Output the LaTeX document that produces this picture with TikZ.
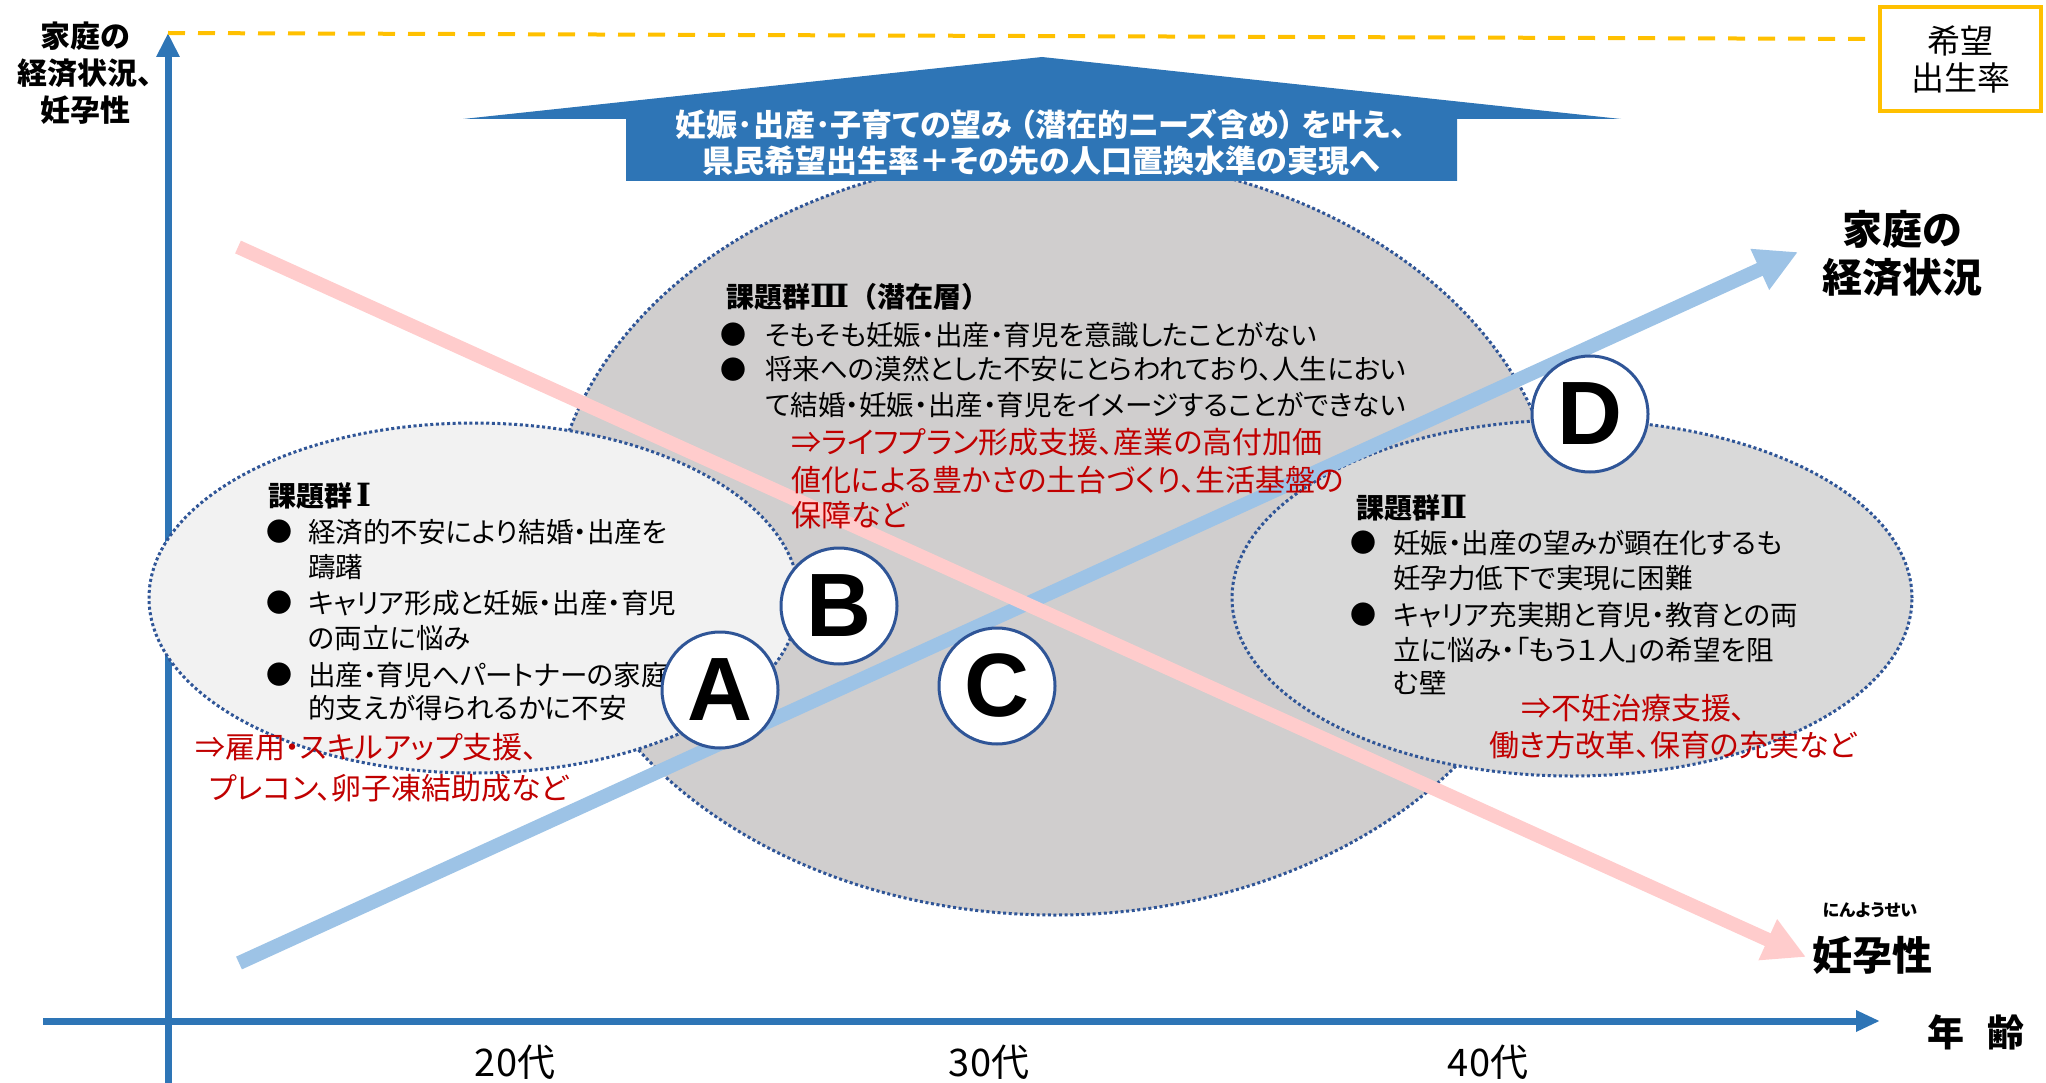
\documentclass[tikz,border=0pt]{standalone}
\usepackage{fontspec}
\setmainfont{Noto Sans CJK JP}[RawFeature=+palt]
\newfontfamily\headfont{Noto Sans CJK JP}
\newfontfamily\romanfont{DejaVu Serif}
\newfontfamily\letterfont{Liberation Sans}
\usetikzlibrary{arrows.meta}
\definecolor{axisblue}{HTML}{2E75B6}
\definecolor{econblue}{HTML}{9DC3E6}
\definecolor{fertpink}{HTML}{FFCCCC}
\definecolor{hopeyel}{HTML}{FFC000}
\definecolor{rimblue}{HTML}{2F5597}
\definecolor{grpthree}{HTML}{D0CECE}
\definecolor{grpone}{HTML}{F2F2F2}
\definecolor{grptwo}{HTML}{D9D9D9}
\definecolor{redtxt}{HTML}{C00000}
\newcommand\romnum[1]{{\romanfont\bfseries\fontsize{32}{32}\selectfont #1}}
\tikzset{
  txt/.style={anchor=base west, inner sep=0pt, font=\fontsize{27.5}{27.5}\selectfont},
  redline/.style={anchor=base west, inner sep=0pt, text=redtxt, font=\fontsize{30}{30}\selectfont},
  head/.style={anchor=base west, inner sep=0pt, font=\headfont\bfseries\fontsize{28}{28}\selectfont},
  bul/.style={anchor=center, inner sep=0pt, font=\fontsize{26}{26}\selectfont},
  ellborder/.style={draw=rimblue, line width=3pt, dash pattern=on 3pt off 2.6pt},
  circ/.style={circle, draw=rimblue, line width=3pt, fill=white, minimum size=116pt, inner sep=0pt,
    font=\letterfont\bfseries\fontsize{90}{90}\selectfont},
  axisline/.style={draw=axisblue, line width=7pt},
  trendline/.style={line width=14pt, -{Triangle[width=42pt,length=42pt]}},
  label/.style={inner sep=0pt, align=center}
}
\begin{document}
\begin{tikzpicture}[x=1pt,y=-1pt]
\useasboundingbox (0,0) rectangle (2046,1083);

% axes
\coordinate (ybot) at (168,1083);
\coordinate (ytop) at (168,33);
\coordinate (xleft) at (43,1021);
\coordinate (xright) at (1880,1021);
\draw[axisline, -{Triangle[width=22pt,length=24pt]}] (ybot) -- (ytop);
\draw[axisline, -{Triangle[width=20pt,length=24pt]}] (xleft) -- (xright);

% hope line and box
\node[draw=hopeyel, line width=4pt, minimum width=161pt, minimum height=104pt, inner sep=0pt,
  align=center, font=\headfont\fontsize{33}{37}\selectfont] (hope) at (1960.5,59) {希望\\出生率};
\draw[hopeyel, line width=4pt, dash pattern=on 17pt off 13pt] (ytop) -- ([yshift=20pt]hope.west);

% ellipses
\fill[grpthree] (1055,535) ellipse [x radius=505pt, y radius=380pt];
\draw[ellborder] (1055,535) ellipse [x radius=505pt, y radius=380pt];
\fill[grpone] (474,598) ellipse [x radius=325pt, y radius=175pt];
\draw[ellborder] (474,598) ellipse [x radius=325pt, y radius=175pt];
\fill[grptwo] (1572,598) ellipse [x radius=340pt, y radius=178pt];
\draw[ellborder] (1572,598) ellipse [x radius=340pt, y radius=178pt];

% big upward arrow
\fill[axisblue] (463,119) -- (1042,57) -- (1621,119) -- (1457,119) -- (1457,181) -- (626,181) -- (626,119) -- cycle;
\node[label, text=white, font=\bfseries\fontsize{31}{36}\selectfont] (goal) at (1041,142)
  {妊娠･出産･子育ての望み\hspace{0.25em}（潜在的ニーズ含め）\hspace{0.25em}を叶え、\\県民希望出生率＋その先の人口置換水準の実現へ};

% trend arrows
\coordinate (e0) at (239,963);
\coordinate (e1) at (1798,252);
\coordinate (p0) at (238,247);
\coordinate (p1) at (1806,957);
\draw[trendline, econblue] (e0) -- (e1);
\draw[trendline, fertpink] (p0) -- (p1);

% axis labels
\node[label, font=\bfseries\fontsize{30}{37}\selectfont] (ylab) at (85,73) {家庭の\\経済状況、\\妊孕性};
\node[label, font=\bfseries\fontsize{40}{48}\selectfont] (econlab) at (1902,254) {家庭の\\経済状況};
\node[label, font=\bfseries\fontsize{17}{17}\selectfont] (ruby) at (1870,910) {にんようせい};
\node[label, font=\bfseries\fontsize{40}{40}\selectfont] (fertlab) at (1872,955) {妊孕性};
\node[label, font=\bfseries\fontsize{37}{37}\selectfont] (agelab) at (1976,1032) {年\hspace{0.6em}齢};
\node[label, font=\fontsize{38}{38}\selectfont] (a20) at (515,1062) {20代};
\node[label, font=\fontsize{38}{38}\selectfont] (a30) at (989,1062) {30代};
\node[label, font=\fontsize{38}{38}\selectfont] (a40) at (1488,1062) {40代};

% group I
\node[head] (h1) at (268,506) {課題群\hspace{0.15em}\romnum{Ⅰ}};
\node[bul] (b1a) at (279,532) {●};
\node[txt] (t1a) at (308,542) {経済的不安により結婚・出産を};
\node[txt] (t1b) at (308,577) {躊躇};
\node[bul] (b1b) at (279,603) {●};
\node[txt] (t1c) at (308,613) {キャリア形成と妊娠・出産・育児};
\node[txt] (t1d) at (308,648) {の両立に悩み};
\node[bul] (b1c) at (279,675) {●};
\node[txt] (t1e) at (308,685) {出産・育児へパートナーの家庭};
\node[txt] (t1f) at (308,718) {的支えが得られるかに不安};
\node[redline] (r1a) at (195,758) {⇒雇用・スキルアップ支援、};
\node[redline] (r1b) at (209,799) {プレコン、卵子凍結助成など};

% group III
\node[head] (h3) at (726,308) {課題群\romnum{Ⅲ}（潜在層）};
\node[bul] (b3a) at (733,335) {●};
\node[txt] (t3a) at (765,345) {そもそも妊娠・出産・育児を意識したことがない};
\node[bul] (b3b) at (733,370) {●};
\node[txt] (t3b) at (765,380) {将来への漠然とした不安にとらわれており、人生におい};
\node[txt] (t3c) at (765,415) {て結婚・妊娠・出産・育児をイメージすることができない};
\node[redline] (r3a) at (791,453) {⇒ライフプラン形成支援、産業の高付加価};
\node[redline] (r3b) at (791,491) {値化による豊かさの土台づくり、生活基盤の};
\node[redline] (r3c) at (791,526) {保障など};

% group II
\node[head] (h2) at (1356,518) {課題群\romnum{Ⅱ}};
\node[bul] (b2a) at (1363,543) {●};
\node[txt] (t2a) at (1393,553) {妊娠・出産の望みが顕在化するも};
\node[txt] (t2b) at (1393,588) {妊孕力低下で実現に困難};
\node[bul] (b2b) at (1363,615) {●};
\node[txt] (t2c) at (1393,625) {キャリア充実期と育児・教育との両};
\node[txt] (t2d) at (1393,660) {立に悩み・「もう１人」の希望を阻};
\node[txt] (t2e) at (1393,693) {む壁};
\node[redline] (r2a) at (1521,719) {⇒不妊治療支援、};
\node[redline] (r2b) at (1489,756) {働き方改革、保育の充実など};

% letter circles
\node[circ] (A) at (720,690) {A};
\node[circ] (B) at (839,606) {B};
\node[circ] (C) at (997,686) {C};
\node[circ] (D) at (1590,414) {D};
\end{tikzpicture}
\end{document}
